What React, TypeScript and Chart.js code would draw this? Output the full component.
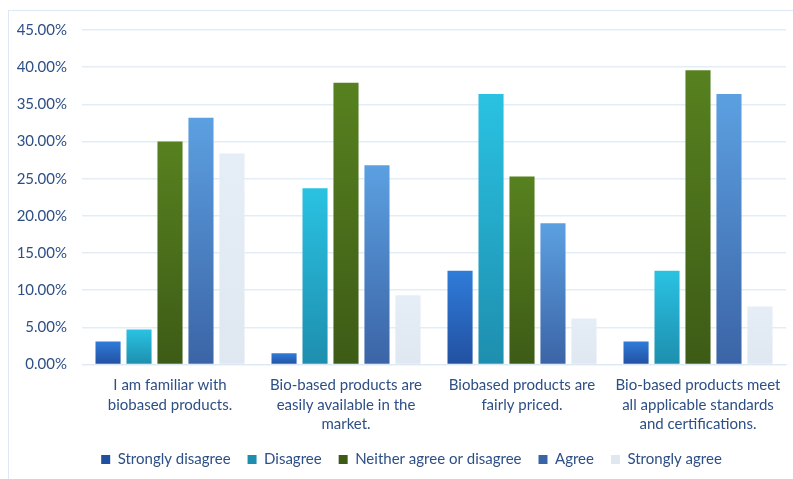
import React, { useEffect, useRef } from "react";
import { Chart, registerables } from "chart.js";

Chart.register(...registerables);

const categories: string[][] = [
  ["I am familiar with", "biobased products."],
  ["Bio-based products are", "easily available in the", "market."],
  ["Biobased products are", "fairly priced."],
  ["Bio-based products meet", "all applicable standards", "and certifications."],
];

const seriesNames = [
  "Strongly disagree",
  "Disagree",
  "Neither agree or disagree",
  "Agree",
  "Strongly agree",
];

const stronglyDisagree = [3.1, 1.5, 12.6, 3.1];
const disagree = [4.7, 23.7, 36.4, 12.6];
const neither = [30.0, 37.9, 25.3, 39.6];
const agree = [33.2, 26.8, 19.0, 36.4];
const stronglyAgree = [28.4, 9.3, 6.2, 7.8];

const yTicks = [0, 5, 10, 15, 20, 25, 30, 35, 40, 45];

const palette: [string, string, string][] = [
  ["#2f7cd9", "#2250a1", "#2a66c0"],
  ["#2ac2e2", "#1e8eae", "#27b0d2"],
  ["#57811f", "#3d5b16", "#4a6e1a"],
  ["#5ca0e1", "#3b64a6", "#4f86c9"],
  ["#e5edf6", "#dfe7f1", "#e3ebf4"],
];

const TEXT = "#2d4f86";
const FONT = "Lato, 'Open Sans', sans-serif";

const legendShift = {
  id: "legendShift",
  afterLayout(chart: any) {
    const lg = chart.legend;
    if (lg) {
      lg.left += 14;
      lg.right += 14;
    }
  },
};

export default function App() {
  const ref = useRef<HTMLCanvasElement | null>(null);

  useEffect(() => {
    if (!ref.current) return;
    const values = [stronglyDisagree, disagree, neither, agree, stronglyAgree];
    const chart = new Chart(ref.current, {
      type: "bar",
      plugins: [legendShift],
      data: {
        labels: categories,
        datasets: values.map((v, i) => ({
          label: seriesNames[i],
          data: v,
          backgroundColor: (ctx: any) => {
            const [top, bottom, mid] = palette[i];
            if (ctx.type !== "data") return mid;
            const chart = ctx.chart;
            const ys = chart.scales && chart.scales.y;
            if (!ys || !chart.chartArea) return mid;
            const y0 = ys.getPixelForValue(0);
            const y1 = ys.getPixelForValue(ctx.raw);
            if (!isFinite(y0) || !isFinite(y1) || y0 === y1) return mid;
            const g = chart.ctx.createLinearGradient(0, y1, 0, y0);
            g.addColorStop(0, top);
            g.addColorStop(1, bottom);
            return g;
          },
          borderWidth: 0,
          categoryPercentage: 0.88,
          barPercentage: 0.81,
        })),
      },
      options: {
        animation: false,
        responsive: true,
        maintainAspectRatio: false,
        layout: { padding: { left: 0, right: 7, top: 19, bottom: 2 } },
        scales: {
          x: {
            grid: { display: false, drawTicks: false },
            border: { display: true, color: "#dce8f5" },
            afterFit: (scale: any) => {
              scale.height = scale.height - 10;
            },
            ticks: {
              color: TEXT,
              font: { family: FONT, size: 15, lineHeight: 1.3 },
              padding: 11,
              maxRotation: 0,
              autoSkip: false,
            },
          },
          y: {
            min: 0,
            max: 45,
            afterBuildTicks: (scale: any) => {
              scale.ticks = yTicks.map((v) => ({ value: v }));
            },
            afterFit: (scale: any) => {
              scale.width = 73;
            },
            grid: {
              color: "#e3edf8",
              lineWidth: 1.5,
              drawTicks: true,
              tickLength: 15,
              tickColor: "rgba(0,0,0,0)",
            },
            border: { display: false },
            ticks: {
              color: TEXT,
              font: { family: FONT, size: 15 },
              padding: 0,
              callback: (v: any) => Number(v).toFixed(2) + "%",
            },
          },
        },
        plugins: {
          legend: {
            position: "bottom",
            labels: {
              color: TEXT,
              font: { family: FONT, size: 15 },
              boxWidth: 9,
              boxHeight: 9,
              padding: 17,
            },
          },
          tooltip: { enabled: false },
        },
      },
    });
    return () => chart.destroy();
  }, []);

  return (
    <div
      style={{
        position: "absolute",
        left: 8,
        top: 10,
        width: 785,
        height: 469,
        borderTop: "1px solid #dce8f5",
        borderLeft: "1px solid #dce8f5",
        boxSizing: "border-box",
        background: "#fff",
      }}
    >
      <div style={{ position: "relative", width: 784, height: 468 }}>
        <canvas ref={ref} />
      </div>
    </div>
  );
}
